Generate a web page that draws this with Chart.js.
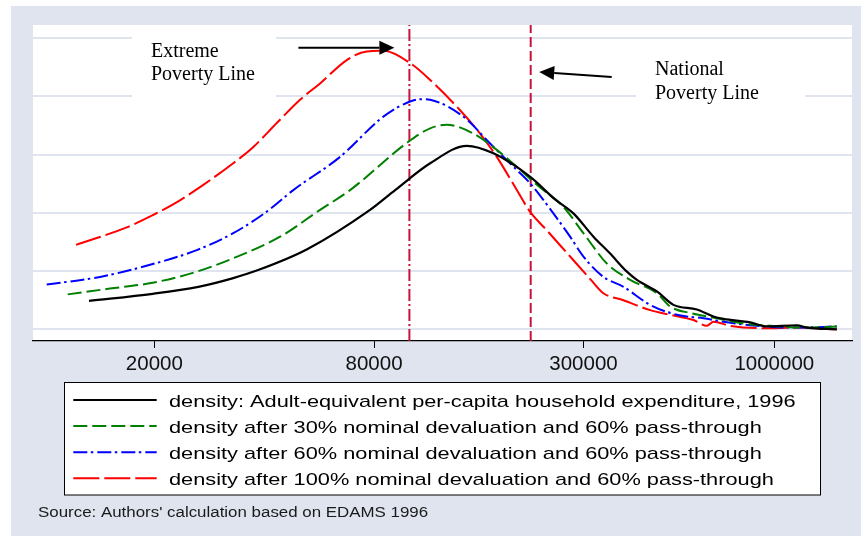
<!DOCTYPE html>
<html><head><meta charset="utf-8">
<script src="https://cdn.jsdelivr.net/npm/chart.js@4"></script>
<style>html,body{margin:0;padding:0;background:#fff;}canvas{display:block;}</style>
</head><body>
<canvas id="c" width="861" height="536"></canvas>
<script>
// ---- data ----
const xTicks = [20000, 80000, 300000, 1000000];
const yGrid = [0, 1, 2, 3, 4, 5];
const seriesLabels = [
  "density: Adult-equivalent per-capita household expenditure, 1996",
  "density after 30% nominal devaluation and 60% pass-through",
  "density after 60% nominal devaluation and 60% pass-through",
  "density after 100% nominal devaluation and 60% pass-through"
];
const baseIncome = [13240, 19800, 26400, 32900, 39000, 52300, 78000, 91400, 114000, 143700, 170000, 214000, 250800, 281500, 319500, 354900, 394500, 420200, 476700, 529300, 613500, 681200, 725900, 858900, 954400, 1153000, 1229000, 1484000];
const baseDensity = [0.49, 0.61, 0.73, 0.88, 1.03, 1.37, 2.05, 2.39, 2.85, 3.15, 3.02, 2.62, 2.23, 1.99, 1.59, 1.30, 0.99, 0.85, 0.65, 0.42, 0.34, 0.22, 0.18, 0.12, 0.05, 0.07, 0.03, 0.00];
const dev30Income = [11576, 15120, 19800, 26140, 32900, 44220, 56910, 68780, 99380, 114000, 126600, 149800, 173600, 197000, 223500, 264400, 299900, 347600, 402700, 476700, 518500, 588200, 695900, 823400, 974300, 1229000, 1484000];
const dev30Density = [0.60, 0.70, 0.80, 0.99, 1.22, 1.59, 2.05, 2.39, 3.22, 3.45, 3.51, 3.36, 3.08, 2.79, 2.48, 2.10, 1.65, 1.13, 0.85, 0.62, 0.39, 0.28, 0.19, 0.10, 0.06, 0.03, 0.05];
const dev60Income = [10140, 14200, 19800, 26140, 32900, 40650, 48080, 64570, 84860, 100400, 108100, 114000, 140600, 166400, 192800, 214000, 248100, 275700, 299900, 340200, 386000, 456900, 540800, 639500, 725900, 858900, 1153000, 1484000];
const dev60Density = [0.77, 0.90, 1.12, 1.36, 1.65, 2.02, 2.39, 2.96, 3.65, 3.91, 3.95, 3.94, 3.65, 3.19, 2.79, 2.51, 1.99, 1.59, 1.25, 0.90, 0.73, 0.42, 0.25, 0.19, 0.13, 0.07, 0.03, 0.05];
const dev100Income = [12200, 16800, 19800, 22320, 27240, 32900, 37360, 43300, 50150, 56910, 67350, 76420, 84860, 100400, 114000, 137700, 156200, 173600, 197000, 214000, 238000, 275700, 314400, 340200, 386000, 456900, 518500, 600500, 653600, 681200, 756800, 934200, 1153000, 1484000];
const dev100Density = [1.45, 1.75, 1.96, 2.13, 2.48, 2.85, 3.13, 3.54, 3.94, 4.22, 4.62, 4.77, 4.78, 4.57, 4.28, 3.76, 3.36, 2.96, 2.39, 2.02, 1.70, 1.25, 0.85, 0.62, 0.50, 0.33, 0.25, 0.16, 0.06, 0.13, 0.06, 0.02, 0.03, 0.00];
const extremePovertyLine = 100000;
const nationalPovertyLine = 215000;
const xMin = 9300, xMax = 1633000, yMin = -0.2, yMax = 5.223;
const annotationExtreme = ["Extreme", "Poverty Line"];
const annotationNational = ["National", "Poverty Line"];
const sourceNote = "Source: Authors' calculation based on EDAMS 1996";

// ---- build ----
const pts = (xs, ys) => xs.map((x, i) => ({x: x, y: ys[i]}));
const vline = v => [{x: v, y: yMin}, {x: v, y: yMax}];
const CRIMSON = '#c8143c';

function drawArrow(ctx, x1, y1, x2, y2) {
  const ang = Math.atan2(y2 - y1, x2 - x1), hl = 15, hw = 7;
  const bx = x2 - hl * Math.cos(ang), by = y2 - hl * Math.sin(ang);
  ctx.beginPath(); ctx.moveTo(x1, y1); ctx.lineTo(bx, by); ctx.stroke();
  ctx.beginPath();
  ctx.moveTo(x2, y2);
  ctx.lineTo(bx + hw * Math.sin(ang), by - hw * Math.cos(ang));
  ctx.lineTo(bx - hw * Math.sin(ang), by + hw * Math.cos(ang));
  ctx.closePath(); ctx.fill();
}

const decor = {
  id: 'decor',
  beforeDraw(chart) {
    const {ctx, chartArea: a, width, height} = chart;
    ctx.save();
    ctx.fillStyle = '#fff'; ctx.fillRect(0, 0, width, height);
    ctx.fillStyle = '#dfe4ef'; ctx.fillRect(11, 6, width - 11, height - 6);
    ctx.fillStyle = '#fff'; ctx.fillRect(a.left, a.top, a.right - a.left, a.bottom - a.top);
    ctx.restore();
  },
  beforeDatasetsDraw(chart) {
    const {ctx, chartArea: a} = chart;
    ctx.save(); ctx.fillStyle = '#fff';
    ctx.fillRect(a.left + 99, a.top + 7, 144, 72);
    ctx.fillRect(a.left + 603, a.top + 25, 169, 75);
    ctx.restore();
  },
  afterDatasetsDraw(chart) {
    const {ctx, chartArea: a} = chart;
    const xs = chart.scales.x;
    const ex = xs.getPixelForValue(extremePovertyLine);
    const nx = xs.getPixelForValue(nationalPovertyLine);
    ctx.save();
    ctx.strokeStyle = '#000'; ctx.fillStyle = '#000'; ctx.lineWidth = 2; ctx.setLineDash([]);
    drawArrow(ctx, ex - 111, a.top + 22.7, ex - 15, a.top + 22.7);
    drawArrow(ctx, nx + 81, a.top + 52, nx + 8.5, a.top + 47);
    ctx.font = '20px "Liberation Serif"';
    ctx.textBaseline = 'alphabetic'; ctx.textAlign = 'left';
    ctx.fillText(annotationExtreme[0], a.left + 118, a.top + 32);
    ctx.fillText(annotationExtreme[1], a.left + 118, a.top + 55);
    ctx.fillText(annotationNational[0], a.left + 622, a.top + 50);
    ctx.fillText(annotationNational[1], a.left + 622, a.top + 74);
    ctx.restore();
  },
  afterDraw(chart) {
    const {ctx} = chart;
    ctx.save();
    // legend box
    ctx.fillStyle = '#fff'; ctx.fillRect(64.5, 382.5, 756, 112.5);
    ctx.strokeStyle = '#000'; ctx.lineWidth = 1; ctx.setLineDash([]);
    ctx.strokeRect(64.5, 382.5, 756, 112.5);
    const items = chart.data.datasets.slice(0, seriesLabels.length);
    items.forEach((ds, i) => {
      const y = 400 + i * 26.1;
      ctx.save();
      ctx.strokeStyle = ds.borderColor; ctx.lineWidth = ds.borderWidth;
      ctx.setLineDash(ds.borderDash || []);
      ctx.beginPath(); ctx.moveTo(73.3, y); ctx.lineTo(156.7, y); ctx.stroke();
      ctx.restore();
      ctx.save();
      ctx.fillStyle = '#000';
      ctx.font = '17px "Liberation Sans"'; ctx.textBaseline = 'middle';
      ctx.translate(169, y + 2); ctx.scale(1.28, 1);
      ctx.fillText(ds.label, 0, 0);
      ctx.restore();
    });
    // source
    ctx.fillStyle = '#1a1a1a';
    ctx.font = '15.5px "Liberation Sans"'; ctx.textBaseline = 'alphabetic';
    ctx.translate(38, 516.7); ctx.scale(1.09, 1);
    ctx.fillText(sourceNote, 0, 0);
    ctx.restore();
  }
};

const lineDs = (label, xs, ys, color, width, dash) => ({
  label: label, data: pts(xs, ys), borderColor: color, borderWidth: width, borderDash: dash,
  pointRadius: 0, pointHitRadius: 0, fill: false, cubicInterpolationMode: 'monotone'
});

new Chart(document.getElementById('c'), {
  type: 'line',
  data: {
    datasets: [
      lineDs(seriesLabels[0], baseIncome, baseDensity, '#000000', 2.2, []),
      lineDs(seriesLabels[1], dev30Income, dev30Density, '#008000', 2, [14, 5]),
      lineDs(seriesLabels[2], dev60Income, dev60Density, '#0000ff', 2, [14, 3.5, 2.5, 4]),
      lineDs(seriesLabels[3], dev100Income, dev100Density, '#ff0000', 2, [26, 5]),
      {label: 'extreme', data: vline(extremePovertyLine), borderColor: CRIMSON, borderWidth: 2, borderDash: [12, 3, 2, 3], pointRadius: 0, tension: 0},
      {label: 'national', data: vline(nationalPovertyLine), borderColor: CRIMSON, borderWidth: 2, borderDash: [10, 4], pointRadius: 0, tension: 0}
    ]
  },
  options: {
    responsive: false, animation: false, devicePixelRatio: 1,
    layout: {padding: {left: 33, top: 25, right: 9, bottom: 155}},
    plugins: {legend: {display: false}, tooltip: {enabled: false}},
    scales: {
      x: {
        type: 'logarithmic', min: xMin, max: xMax, bounds: 'data',
        afterBuildTicks: s => { s.ticks = xTicks.map(v => ({value: v})); },
        afterFit: s => { s.height = 40; },
        ticks: {autoSkip: false, maxRotation: 0, padding: 4, color: '#111',
          font: {family: 'Liberation Sans', size: 20.5}, callback: v => String(v)},
        grid: {drawOnChartArea: false, drawTicks: true, tickLength: 7, color: '#000', lineWidth: 1},
        border: {display: true, color: '#000', width: 1.2}
      },
      y: {
        type: 'linear', min: yMin, max: yMax, bounds: 'data',
        afterBuildTicks: s => { s.ticks = yGrid.map(v => ({value: v})); },
        afterFit: s => { s.width = 0; },
        ticks: {display: false},
        grid: {color: '#dfe4ef', lineWidth: 2, drawTicks: false},
        border: {display: false}
      }
    }
  },
  plugins: [decor]
});
</script>
</body></html>
